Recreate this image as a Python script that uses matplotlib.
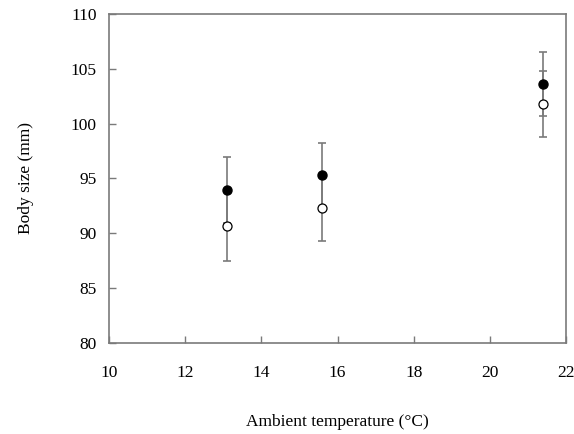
import matplotlib.pyplot as plt

# --- Data ---
temperature = [13.1, 15.6, 21.4]
size_filled = [93.95, 95.3, 103.6]
err_filled = [3.0, 2.9, 2.9]
size_open = [90.65, 92.3, 101.8]
err_open = [3.15, 3.0, 3.0]

x_ticks = [10, 12, 14, 16, 18, 20, 22]
y_ticks = [80, 85, 90, 95, 100, 105, 110]


def main():
    plt.rcParams["font.family"] = ["Liberation Serif", "DejaVu Serif"]
    fig = plt.figure(figsize=(5.74, 4.34), dpi=100)
    ax = fig.add_axes([0.19, 0.21, 0.796, 0.758])

    grey = "#7a7a7a"
    ax.errorbar(temperature, size_filled, yerr=err_filled, fmt="none",
                ecolor=grey, elinewidth=1.2, capsize=3, capthick=1.2, zorder=2)
    ax.errorbar(temperature, size_open, yerr=err_open, fmt="none",
                ecolor=grey, elinewidth=1.2, capsize=3, capthick=1.2, zorder=2)
    ax.plot(temperature, size_filled, "o", color="black", markersize=6.5, zorder=3)
    ax.plot(temperature, size_open, "o", markerfacecolor="white",
            markeredgecolor="black", markeredgewidth=0.9, markersize=6.5, zorder=3)

    ax.set_xlim(10, 22)
    ax.set_ylim(80, 110)
    ax.set_xticks(x_ticks)
    ax.set_yticks(y_ticks)
    for s in ax.spines.values():
        s.set_color(grey)
        s.set_linewidth(1.2)
    ax.tick_params(direction="in", length=5, width=1.0, color=grey,
                   labelsize=12.5, pad=9)
    ax.tick_params(axis="x", pad=16)

    ax.set_xlabel("Ambient temperature (°C)", fontsize=12.5, labelpad=24)
    ax.set_ylabel("Body size (mm)", fontsize=12.5, labelpad=26)

    fig.savefig("out.png", dpi=100)
    plt.close(fig)


if __name__ == "__main__":
    main()
